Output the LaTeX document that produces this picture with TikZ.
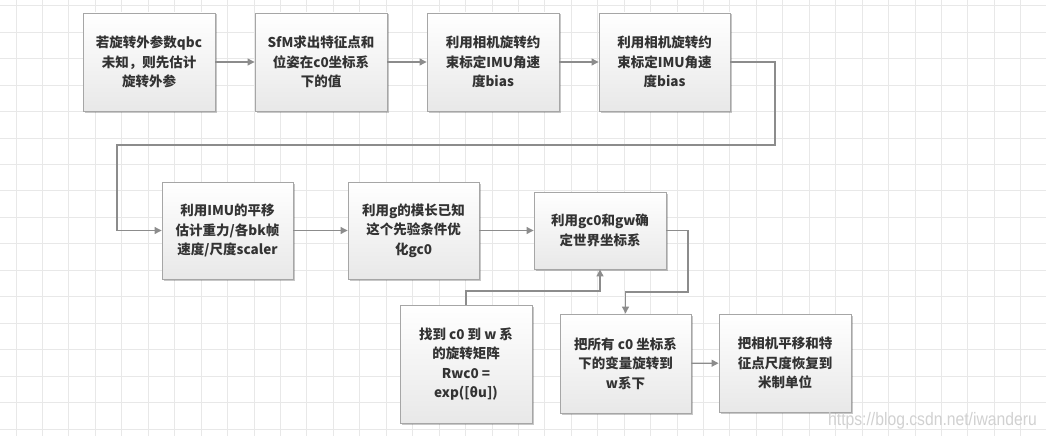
\documentclass[tikz,border=0pt]{standalone}
\usepackage{fontspec}
\setmainfont{Noto Sans CJK SC}
\newfontfamily\wmfont{Liberation Sans}
\usetikzlibrary{arrows.meta,shadows}
\definecolor{gridc}{HTML}{E8E8E8}
\definecolor{linec}{HTML}{8C8C8C}
\definecolor{boxline}{HTML}{A6A6A6}
\definecolor{txt}{HTML}{333333}
\tikzset{
  stepbox/.style={draw=boxline, line width=0.9pt, top color=white, bottom color=black!9,
    minimum width=#1, inner sep=2pt, align=center, text=txt,
    font=\fontsize{13.5}{19.5}\selectfont\bfseries,
    drop shadow={shadow xshift=1.5pt, shadow yshift=-1.5pt, opacity=0.22, fill=black}},
  conn/.style={draw=linec, line width=1.1pt, -{Triangle[length=7pt,width=7pt]}}
}
\begin{document}
\begin{tikzpicture}[x=1pt,y=-1pt]
\useasboundingbox (0,0) rectangle (1046,436);
\fill[white] (0,0) rectangle (1046,436);
\foreach \k in {0,...,39} \draw[gridc, line width=0.8pt] ({16+26.44*\k},0) -- ({16+26.44*\k},436);
\foreach \k in {0,...,16} \draw[gridc, line width=0.8pt] (0,{5.7+26.45*\k}) -- (1046,{5.7+26.45*\k});

\node[stepbox=132pt, minimum height=98pt] (b1) at (149,62) {若旋转外参数qbc\\未知，则先估计\\旋转外参};
\node[stepbox=132pt, minimum height=98pt] (b2) at (321,62) {SfM求出特征点和\\位姿在c0坐标系\\下的值};
\node[stepbox=132pt, minimum height=98pt] (b3) at (493,62) {利用相机旋转约\\束标定IMU角速\\度bias};
\node[stepbox=131pt, minimum height=98pt] (b4) at (664.5,62) {利用相机旋转约\\束标定IMU角速\\度bias};

\node[stepbox=131pt, minimum height=97pt] (b5) at (227.5,230.5) {利用IMU的平移\\估计重力/各bk帧\\速度/尺度scaler};
\node[stepbox=131pt, minimum height=97pt] (b6) at (413.5,230.5) {利用g的模长已知\\这个先验条件优\\化gc0};
\node[stepbox=132pt, minimum height=77pt] (b7) at (600,230.5) {利用gc0和gw确\\定世界坐标系};

\node[stepbox=132pt, minimum height=118pt] (b8) at (466,364) {找到 c0 到 w 系\\的旋转矩阵\\Rwc0 =\\exp([θu])};
\node[stepbox=131pt, minimum height=99pt] (b9) at (625.5,363.5) {把所有 c0 坐标系\\下的变量旋转到\\w系下};
\node[stepbox=132pt, minimum height=98pt] (b10) at (785,363) {把相机平移和特\\征点尺度恢复到\\米制单位};

\coordinate (r1) at (775,62);
\coordinate (r2) at (775,145);
\coordinate (r3) at (117,145);
\coordinate (r4) at (117,230.5);
\coordinate (s1) at (688,230.5);
\coordinate (s2) at (688,292);
\coordinate (s3) at (625.5,292);
\coordinate (u1) at (466,291);
\coordinate (u2) at (600,291);

\draw[conn] (b1) -- (b2);
\draw[conn] (b2) -- (b3);
\draw[conn] (b3) -- (b4);
\draw[conn] (b4.east) -- (r1) -- (r2) -- (r3) -- (r4) -- (b5.west);
\draw[conn] (b5) -- (b6);
\draw[conn] (b6) -- (b7);
\draw[conn] (b7.east) -- (s1) -- (s2) -- (s3) -- (b9.north);
\draw[conn] (b8.north) -- (u1) -- (u2) -- (b7.south);
\draw[conn] (b9) -- (b10);

\node[anchor=base west, inner sep=0pt, text=black!18, font=\wmfont\fontsize{15.7}{18}\selectfont, yscale=1.15] (wm) at (828,425) {https://blog.csdn.net/iwanderu};
\end{tikzpicture}
\end{document}
